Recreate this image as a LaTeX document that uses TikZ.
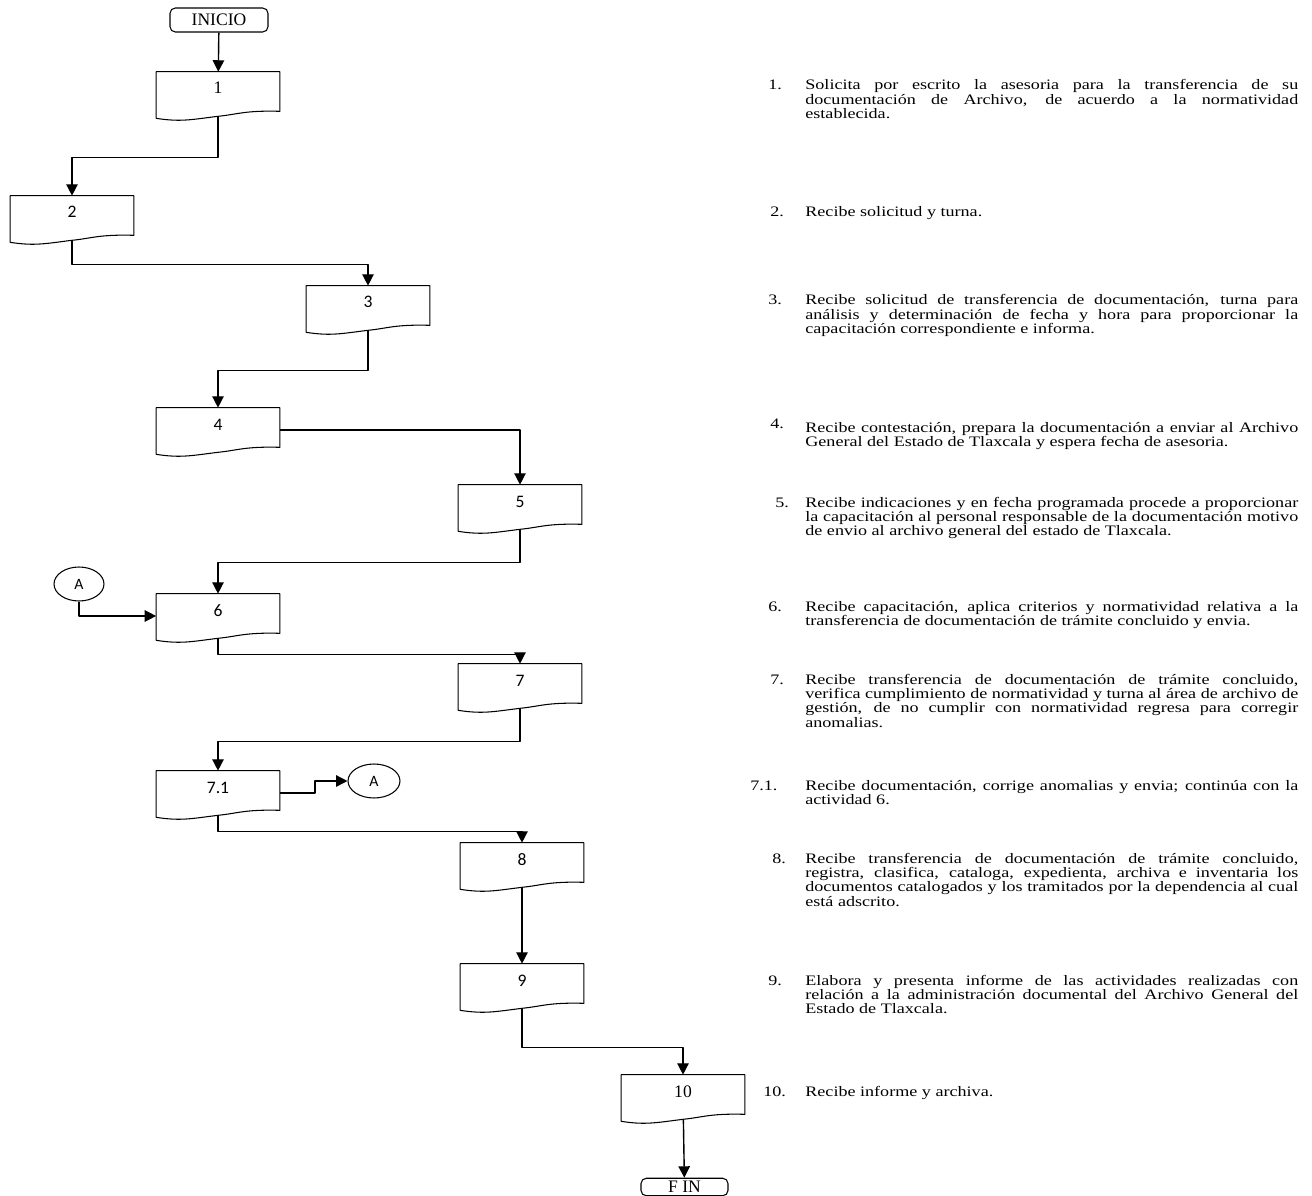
\documentclass[tikz,border=0pt]{standalone}
\usepackage{fontspec}
\setmainfont{Liberation Serif}
\newfontfamily\calibri{Carlito}
\usetikzlibrary{arrows.meta,calc,shapes.geometric}

% testo delle attivita', leggermente schiacciato in verticale come nell'originale
\newcommand\paso[1]{\scalebox{1}[0.8]{\parbox[t]{9.86cm}{\fontsize{10.3}{10.2}\selectfont #1}}}
\newcommand\nump[1]{\scalebox{1}[0.8]{\fontsize{10.3}{10.2}\selectfont #1}}

\begin{document}
\begin{tikzpicture}[x=0.02cm,y=-0.02cm,line join=round,
    doc/.style={rectangle,minimum width=2.46cm,inner ysep=0pt,text height=12.5pt,text depth=12.5pt,
                font=\fontsize{10}{12}\selectfont},
    term/.style={draw,rounded corners=3pt,line width=0.6pt,minimum width=1.96cm,minimum height=0.48cm,
                 inner sep=0pt,font=\fontsize{10}{12}\selectfont},
    conec/.style={draw,ellipse,line width=0.6pt,minimum width=1cm,minimum height=0.68cm,inner sep=0pt,
                  font=\calibri\fontsize{9}{11}\selectfont},
    borde/.style={line width=0.6pt},
    flecha/.style={line width=0.8pt,-{Triangle[length=6.5pt,width=6.5pt]}},
    num/.style={anchor=base west,inner sep=0pt},
    desc/.style={anchor=base west,inner sep=0pt}]

  \useasboundingbox (0,0) rectangle (1312,1196);

  % ======================= diagrama: inicio, documentos, fin ==================
  \node[term] (inicio) at (219,  20) {INICIO};
  \node[doc]  (p1)  at (218,  94) {1};
  \node[doc]  (p2)  at ( 72, 218) {\calibri 2};
  \node[doc]  (p3)  at (368, 308) {\calibri 3};
  \node[doc]  (p4)  at (218, 430) {\calibri 4};
  \node[doc]  (p5)  at (520, 507) {\calibri 5};
  \node[doc]  (p6)  at (218, 616) {\calibri 6};
  \node[doc]  (p7)  at (520, 686) {\calibri 7};
  \node[doc]  (p71) at (218, 793) {\calibri 7.1};
  \node[doc]  (p8)  at (522, 865) {\calibri 8};
  \node[doc]  (p9)  at (522, 986) {\calibri 9};
  \node[doc]  (p10) at (683,1097) {10};
  \node[term,minimum width=1.74cm,minimum height=0.35cm] (fin) at (684.5,1187) {F IN};

  \node[conec] (conA) at ( 79, 584) {A};                       % conector de entrada
  \node[conec,minimum width=1.04cm] (conB) at (374, 781) {A};  % conector de salida

  % contorno de documento: lado inferior ondulado
  \foreach \n in {p1,p2,p3,p4,p5,p6,p7,p71,p8,p9,p10}
    \draw[borde] (\n.north west) -- (\n.north east) -- ($(\n.south east)+(0,-5)$)
      .. controls ($(\n.south east)+(-35,-6)$) and ($(\n.south)+(20,-2)$) .. (\n.south)
      .. controls ($(\n.south)+(-25,3)$) and ($(\n.south west)+(25,6)$) .. ($(\n.south west)+(0,2)$)
      -- cycle;

  % ======================= conexiones ==========================================
  \draw[flecha] (inicio) -- (p1);
  \draw[flecha] (p1.south)  -- ++(0,41) -| (p2.north);
  \draw[flecha] (p2.south)  -- ++(0,24) -| (p3.north);
  \draw[flecha] (p3.south)  -- ++(0,40) -| (p4.north);
  \draw[flecha] (p4.east)   -| (p5.north);
  \draw[flecha] (p5.south)  -- ++(0,33) -| (p6.north);
  \draw[flecha] (conA.south) |- (p6.west);
  \draw[flecha] (p6.south)  -- ++(0,16) -| (p7.north);
  \draw[flecha] (p7.south)  -- ++(0,33) -| (p71.north);
  \draw[flecha] (p71.east)  -- ++(35,0) |- (conB.west);
  \draw[flecha] (p71.south) -- ++(0,16) -| (p8.north);
  \draw[flecha] (p8) -- (p9);
  \draw[flecha] (p9.south)  -- ++(0,39) -| (p10.north);
  \draw[flecha] (p10) -- (fin);

  % ======================= descripcion de las actividades ======================
  \node[num] (n1)  at (768,  90) {\nump{1.}};
  \node[desc] (t1) at (805,  90) {\paso{Solicita por escrito la asesoria para la transferencia de su\linebreak
    documentación de Archivo, de acuerdo a la normatividad\linebreak establecida.}};

  \node[num] (n2)  at (770, 217) {\nump{2.}};
  \node[desc] (t2) at (805, 217) {\paso{Recibe solicitud y turna.}};

  \node[num] (n3)  at (768, 305) {\nump{3.}};
  \node[desc] (t3) at (805, 305) {\paso{Recibe solicitud de transferencia de documentación, turna para\linebreak
    análisis y determinación de fecha y hora para proporcionar la\linebreak
    capacitación correspondiente e informa.}};

  \node[num] (n4)  at (770, 428) {\nump{4.}};
  \node[desc] (t4) at (805, 432) {\paso{Recibe contestación, prepara la documentación a enviar al Archivo\linebreak
    General del Estado de Tlaxcala y espera fecha de asesoria.}};

  \node[num] (n5)  at (775, 507) {\nump{5.}};
  \node[desc] (t5) at (805, 507) {\paso{Recibe indicaciones y en fecha programada procede a proporcionar\linebreak
    la capacitación al personal responsable de la documentación motivo\linebreak
    de envio al archivo general del estado de Tlaxcala.}};

  \node[num] (n6)  at (768, 611) {\nump{6.}};
  \node[desc] (t6) at (805, 611) {\paso{Recibe capacitación, aplica criterios y normatividad relativa a la\linebreak
    transferencia de documentación de trámite concluido y envia.}};

  \node[num] (n7)  at (770, 684) {\nump{7.}};
  \node[desc] (t7) at (805, 684) {\paso{Recibe transferencia de documentación de trámite concluido,\linebreak
    verifica cumplimiento de normatividad y turna al área de archivo de\linebreak
    gestión, de no cumplir con normatividad regresa para corregir\linebreak anomalias.}};

  \node[num] (n71) at (750, 790) {\nump{7.1.}};
  \node[desc] (t71) at (805, 790) {\paso{Recibe documentación, corrige anomalias y envia; continúa con la\linebreak
    actividad 6.}};

  \node[num] (n8)  at (772, 863) {\nump{8.}};
  \node[desc] (t8) at (805, 863) {\paso{Recibe transferencia de documentación de trámite concluido,\linebreak
    registra, clasifica, cataloga, expedienta, archiva e inventaria los\linebreak
    documentos catalogados y los tramitados por la dependencia al cual\linebreak está adscrito.}};

  \node[num] (n9)  at (768, 985) {\nump{9.}};
  \node[desc] (t9) at (805, 985) {\paso{Elabora y presenta informe de las actividades realizadas con\linebreak
    relación a la administración documental del Archivo General del\linebreak
    Estado de Tlaxcala.}};

  \node[num] (n10) at (763,1096) {\nump{10.}};
  \node[desc] (t10) at (805,1096) {\paso{Recibe informe y archiva.}};

\end{tikzpicture}
\end{document}
